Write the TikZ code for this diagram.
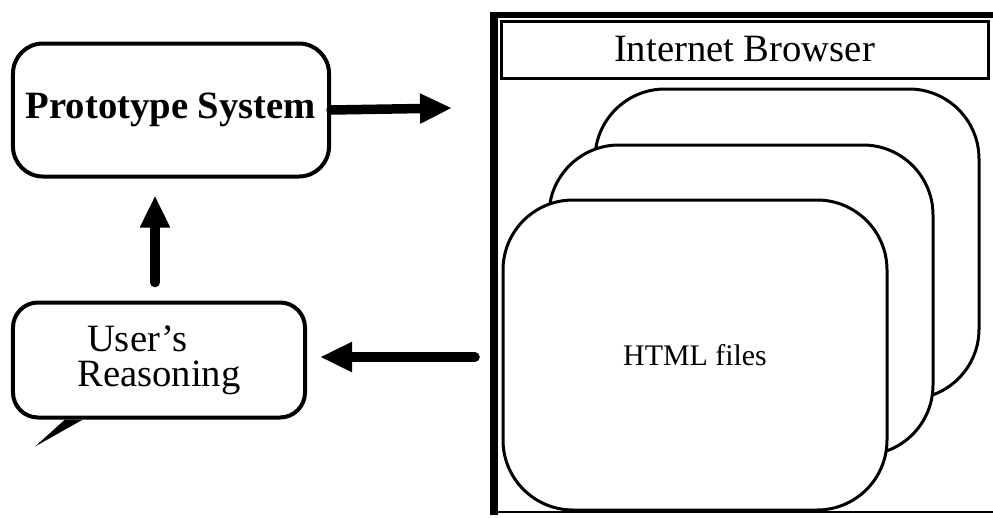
\documentclass[tikz,border=0pt]{standalone}
\usepackage{fontspec}
\setmainfont{Liberation Serif}
\usetikzlibrary{arrows.meta}
\tikzset{
  roundbox/.style={
    draw,
    rounded corners=6mm,
    line width=0.8mm,
    inner sep=0mm,
    font=\fontsize{22}{20}\selectfont
  },
  page/.style={
    draw,
    fill=white,
    rounded corners=14mm,
    line width=0.6mm,
    minimum width=76.8mm,
    minimum height=62mm,
    inner sep=0mm,
  font=\fontsize{17}{18}\selectfont
  },
  bigarrow/.style={
    line width=1.9mm,
    line cap=round,
    -{Triangle[length=6.4mm,width=5.6mm]}
  }
}

\begin{document}
\begin{tikzpicture}[x=0.2mm,y=-0.2mm]
    \useasboundingbox (0,0) rectangle (993,517);
    % left side
    \node[roundbox,minimum width=63.2mm,minimum height=26.6mm,font=\fontsize{22}{20}\selectfont\bfseries] (proto) at (171,110) {Prototype System};
    \node[roundbox,rounded corners=5mm,minimum width=58.4mm,minimum height=23mm,align=left] (user) at (159,360) {\hspace{0.25em}User's\\Reasoning};
    \fill ([xshift=10.8mm]user.south west) -- ++(-6mm,-5.4mm) -- ([xshift=14.4mm]user.south west) -- cycle;
    % browser window
    \draw[line width=1.6mm] (494,12) -- (494,515);
    \draw[line width=1.2mm] (490,15) -- (993,15);
    \draw[line width=0.5mm] (494,512) -- (993,512);
    \node[draw,line width=0.6mm,minimum width=97.4mm,minimum height=11.4mm,inner sep=0mm,font=\fontsize{22}{20}\selectfont] (title) at (744.5,49.5) {Internet Browser};
    \node[page] (back) at (787,244) {};
    \node[page] (middle) at (741,300) {};
    \node[page] (front) at (695,355) {HTML files};
    % arrows
    \coordinate (toweb) at (452,108);
    \coordinate (fromweb) at (475,357);
    \draw[bigarrow] (proto.east) -- (toweb);
    \draw[bigarrow,shorten >=2.6mm] (fromweb) -- (user.east |- fromweb);
    \draw[bigarrow,shorten <=3.6mm,shorten >=3.4mm] ([xshift=-0.8mm]user.north) -- ([xshift=-0.8mm]user.north |- proto.south);
\end{tikzpicture}
\end{document}
